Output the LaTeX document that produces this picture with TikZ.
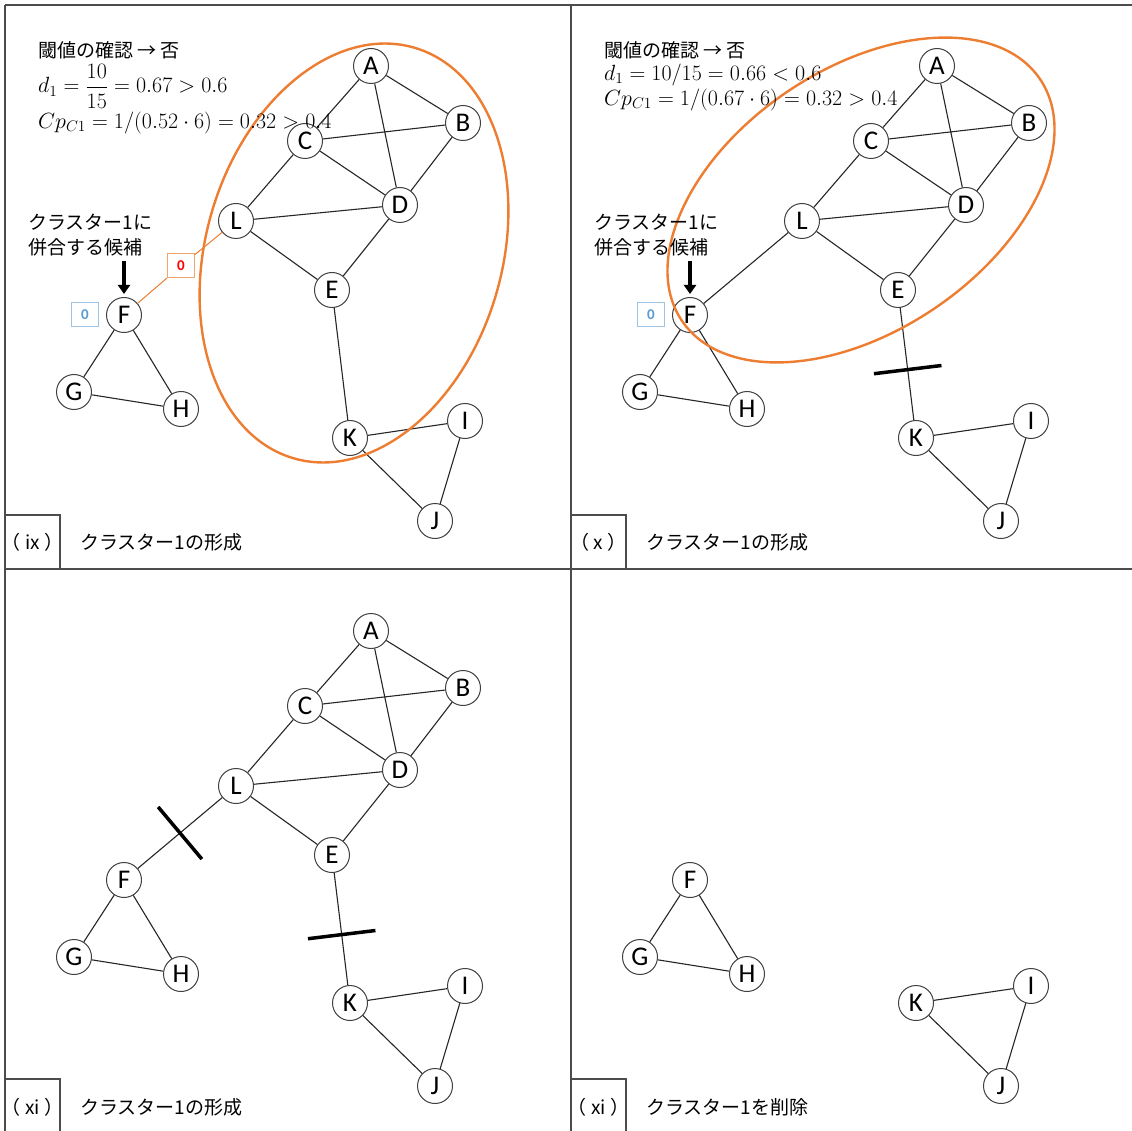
\RequirePackage{fix-cm}
\documentclass[tikz,border=0pt]{standalone}
\usepackage{fontspec}
\newfontfamily\jpfont{Noto Sans CJK JP}
\newfontfamily\vfont{Carlito}
\usetikzlibrary{arrows.meta,positioning}

\definecolor{clusterorange}{HTML}{ED7D31}
\definecolor{boxblue}{HTML}{9DC3E6}
\definecolor{numblue}{HTML}{5B9BD5}
\definecolor{numred}{HTML}{FF0000}

\tikzset{
	vert/.style={circle, draw=black!75, line width=1pt, inner sep=0pt, minimum size=35pt, font=\vfont\fontsize{27}{27}\selectfont},
	edge/.style={line width=1.1pt, black!85},
	frame/.style={line width=1.6pt, black!70},
	cluster/.style={draw=clusterorange, line width=2.4pt},
	link/.style={draw=clusterorange, line width=1pt},
	cutbar/.style={rectangle, fill=black, inner sep=0pt, minimum width=3.5pt, minimum height=68pt, sloped},
	cnt/.style={rectangle, line width=1pt, inner sep=0pt, minimum width=27pt, minimum height=24pt, font=\vfont\bfseries\fontsize{15}{15}\selectfont},
	jp/.style={font=\jpfont\fontsize{19}{25}\selectfont, inner sep=0pt},
	formula/.style={font=\fontsize{22}{26}\selectfont, inner sep=0pt, anchor=west},
	candarrow/.style={-{Triangle[width=12pt,length=9pt]}, line width=4pt},
}

% vertices of the cluster and of the two small triangles
\newcommand{\clusternodes}{
	\node[vert] (A) at (371,66) {A};
	\node[vert] (B) at (463,123) {B};
	\node[vert] (C) at (305,141) {C};
	\node[vert] (D) at (400,205) {D};
	\node[vert] (L) at (236,221) {L};
	\node[vert] (E) at (332,290) {E};
}
\newcommand{\outernodes}{
	\node[vert] (F) at (124,315) {F};
	\node[vert] (G) at (74,392) {G};
	\node[vert] (H) at (181,409) {H};
	\node[vert] (K) at (350,438) {K};
	\node[vert] (I) at (465,421) {I};
	\node[vert] (J) at (435,521) {J};
}
\newcommand{\clusteredges}{
	\draw[edge] (A) -- (B) (A) -- (C) (A) -- (D) (B) -- (C) (B) -- (D) (C) -- (D)
		(C) -- (L) (D) -- (L) (D) -- (E) (E) -- (L);
}
\newcommand{\outeredges}{
	\draw[edge] (F) -- (G) (F) -- (H) (G) -- (H) (K) -- (I) (K) -- (J) (I) -- (J);
}

\begin{document}
\begin{tikzpicture}[x=1pt,y=-1pt]
	\useasboundingbox (0,0) rectangle (1132,1131);

	% frame
	\draw[frame] (5,5) -- (1132,5) (5,5) -- (5,1131) (571,5) -- (571,1131) (5,569) -- (1132,569);
	\draw[frame] (5,515) -- (60,515) -- (60,569) (571,515) -- (626,515) -- (626,569);
	\draw[frame] (5,1079) -- (60,1079) -- (60,1131) (571,1079) -- (626,1079) -- (626,1131);

	% (ix)
	\begin{scope}[name prefix=p9-]
		\clusternodes
		\outernodes
		\clusteredges
		\outeredges
		\draw[edge] (E) -- (K);
		\node[cnt, draw=boxblue, text=numblue, left=7pt of F] (zb) {0};
		\node[cnt, draw=clusterorange!70, text=numred] (zr) at (181,266) {0};
		\draw[link] (F) -- (zr) -- (L);
		\draw[cluster] (354,253) ellipse [x radius=148pt, y radius=214pt, rotate=-16.5];
		\node[jp, anchor=west] (chk) at (38,50) {閾値の確認\ →\ 否};
		\node[formula] (dens) at (38,86) {$d_1 = \displaystyle\frac{10}{15} = 0.67 > 0.6$};
		\node[formula] (cpv) at (38,123) {$Cp_{C1} = 1/(0.52\cdot 6) = 0.32 > 0.4$};
		\node[jp, anchor=west, align=left] (cand) at (28,235) {クラスター1に\\併合する候補};
		\draw[candarrow, shorten <=5pt, shorten >=3pt] (cand.south -| F.north) -- (F.north);
		\node[jp] (tag) at (32.5,542) {（ ix ）};
		\node[jp, anchor=west] (cap) at (80,542) {クラスター1の形成};
	\end{scope}

	% (x)
	\begin{scope}[shift={(566,0)}, name prefix=p10-]
		\clusternodes
		\outernodes
		\clusteredges
		\outeredges
		\draw[edge] (F) -- (L);
		\draw[edge] (E) -- (K) node[cutbar, pos=0.55] {};
		\node[cnt, draw=boxblue, text=numblue, left=7pt of F] (zb) {0};
		\draw[cluster] (295,200) ellipse [x radius=216pt, y radius=131pt, rotate=34];
		\node[jp, anchor=west] (chk) at (38,50) {閾値の確認\ →\ 否};
		\node[formula] (dens) at (38,75) {$d_1 = 10/15 = 0.66 < 0.6$};
		\node[formula] (cpv) at (38,100) {$Cp_{C1} = 1/(0.67\cdot 6) = 0.32 > 0.4$};
		\node[jp, anchor=west, align=left] (cand) at (28,235) {クラスター1に\\併合する候補};
		\draw[candarrow, shorten <=5pt, shorten >=3pt] (cand.south -| F.north) -- (F.north);
		\node[jp] (tag) at (32.5,542) {（ x ）};
		\node[jp, anchor=west] (cap) at (80,542) {クラスター1の形成};
	\end{scope}

	% (xi) cut
	\begin{scope}[shift={(0,565)}, name prefix=p11-]
		\clusternodes
		\outernodes
		\clusteredges
		\outeredges
		\draw[edge] (L) -- (F) node[cutbar, pos=0.5] {};
		\draw[edge] (E) -- (K) node[cutbar, pos=0.55] {};
		\node[jp] (tag) at (32.5,542) {（ xi ）};
		\node[jp, anchor=west] (cap) at (80,542) {クラスター1の形成};
	\end{scope}

	% (xi) removed
	\begin{scope}[shift={(566,565)}, name prefix=p12-]
		\outernodes
		\outeredges
		\node[jp] (tag) at (32.5,542) {（ xi ）};
		\node[jp, anchor=west] (cap) at (80,542) {クラスター1を削除};
	\end{scope}
\end{tikzpicture}
\end{document}
